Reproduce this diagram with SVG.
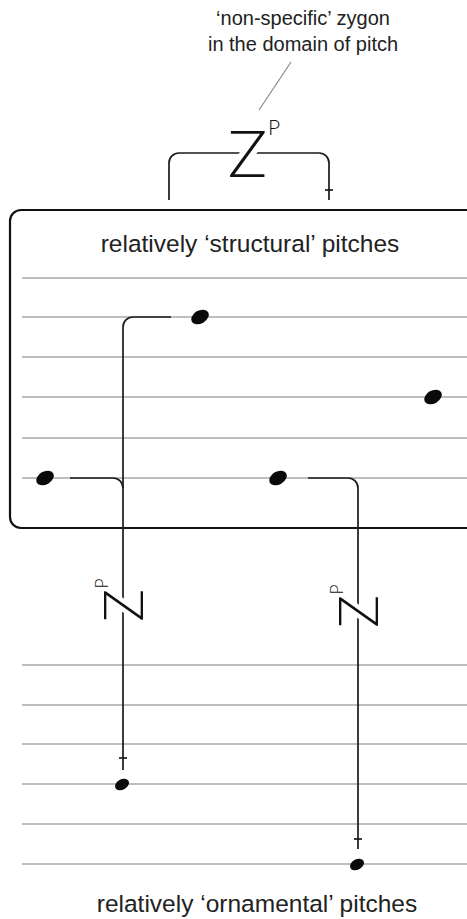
<svg xmlns="http://www.w3.org/2000/svg" width="467" height="919" viewBox="0 0 467 919">
  <style>
    .label { font-family: "Liberation Sans", Arial, sans-serif; fill: #222; text-anchor: middle; }
    .staff { stroke: #a8a8a8; stroke-width: 1.5; fill: none; }
    .conn { stroke: #1a1a1a; stroke-width: 1.7; fill: none; }
    .leader { stroke: #8a8a8a; stroke-width: 1.2; fill: none; }
    .frame { stroke: #111; stroke-width: 2.2; fill: none; }
    .note { fill: #0a0a0a; }
    .zy { font-family: Lato, "Liberation Sans", sans-serif; font-weight: 300; fill: #111; }
    .halo { stroke: #fff; stroke-width: 11; paint-order: stroke; stroke-linejoin: round; }
  </style>

  <defs>
    <!-- zygon symbol Z with superscript P, centred on the origin -->
    <g id="zygon">
      <text class="zy halo" x="0" y="24.5" font-size="66" text-anchor="middle">Z</text>
      <text class="zy" x="20.5" y="-18" font-size="21">P</text>
    </g>
  </defs>

  <rect width="467" height="919" fill="#fff"/>

  <!-- caption above -->
  <g id="caption-zygon">
    <text class="label" x="303" y="25" font-size="20">‘non-specific’ zygon</text>
    <text class="label" x="303" y="50.5" font-size="20">in the domain of pitch</text>
  </g>

  <!-- structural region: open-ended frame with staff -->
  <g id="structural-region">
    <path class="frame" d="M467,210 H21 A11,11 0 0 0 10,221 V517 A11,11 0 0 0 21,528 H467"/>
    <text class="label" x="250" y="252" font-size="24.5">relatively ‘structural’ pitches</text>
    <g class="staff">
      <line x1="22" y1="278" x2="467" y2="278"/>
      <line x1="22" y1="317" x2="467" y2="317"/>
      <line x1="22" y1="357" x2="467" y2="357"/>
      <line x1="22" y1="397" x2="467" y2="397"/>
      <line x1="22" y1="438" x2="467" y2="438"/>
      <line x1="22" y1="478" x2="467" y2="478"/>
    </g>
  </g>

  <!-- ornamental staff -->
  <g id="ornamental-region">
    <g class="staff">
      <line x1="22" y1="665" x2="467" y2="665"/>
      <line x1="22" y1="705" x2="467" y2="705"/>
      <line x1="22" y1="744" x2="467" y2="744"/>
      <line x1="22" y1="784" x2="467" y2="784"/>
      <line x1="22" y1="824" x2="467" y2="824"/>
      <line x1="22" y1="864" x2="467" y2="864"/>
    </g>
    <text class="label" x="257" y="912" font-size="24.5">relatively ‘ornamental’ pitches</text>
  </g>

  <!-- connectors -->
  <g id="connectors">
    <path class="leader" d="M291,62 L259,110"/>
    <path class="conn" d="M169,200 V163 A10,10 0 0 1 179,153 H319 A10,10 0 0 1 329,163 V200"/>
    <path class="conn" d="M325,190 H333"/>
    <path class="conn" d="M171,317 H133 A10,10 0 0 0 123,327 V770"/>
    <path class="conn" d="M70,478 H113 A10,10 0 0 1 123,488"/>
    <path class="conn" d="M119,758 H127"/>
    <path class="conn" d="M308,478 H348 A10,10 0 0 1 358,488 V849"/>
    <path class="conn" d="M354,839 H362"/>
  </g>

  <!-- zygon symbols -->
  <g id="zygon-top"><use href="#zygon" transform="translate(247.5,153) rotate(0.01)"/></g>
  <g id="zygon-left"><use href="#zygon" transform="translate(123,605.5) rotate(-90) scale(0.83)"/></g>
  <g id="zygon-right"><use href="#zygon" transform="translate(358,611.5) rotate(-90) scale(0.83)"/></g>

  <!-- pitches -->
  <g id="pitch-s1"><ellipse class="note" cx="200" cy="317" rx="9.5" ry="6.5" transform="rotate(-30 200 317)"/></g>
  <g id="pitch-s2"><ellipse class="note" cx="433" cy="397" rx="9.5" ry="6.5" transform="rotate(-30 433 397)"/></g>
  <g id="pitch-s3"><ellipse class="note" cx="45" cy="478" rx="9.5" ry="6.5" transform="rotate(-30 45 478)"/></g>
  <g id="pitch-s4"><ellipse class="note" cx="278" cy="478" rx="9.5" ry="6.5" transform="rotate(-30 278 478)"/></g>
  <g id="pitch-o1"><ellipse class="note" cx="122" cy="784.5" rx="7.5" ry="5.2" transform="rotate(-30 122 784.5)"/></g>
  <g id="pitch-o2"><ellipse class="note" cx="357" cy="864.5" rx="7.5" ry="5.2" transform="rotate(-30 357 864.5)"/></g>
</svg>
